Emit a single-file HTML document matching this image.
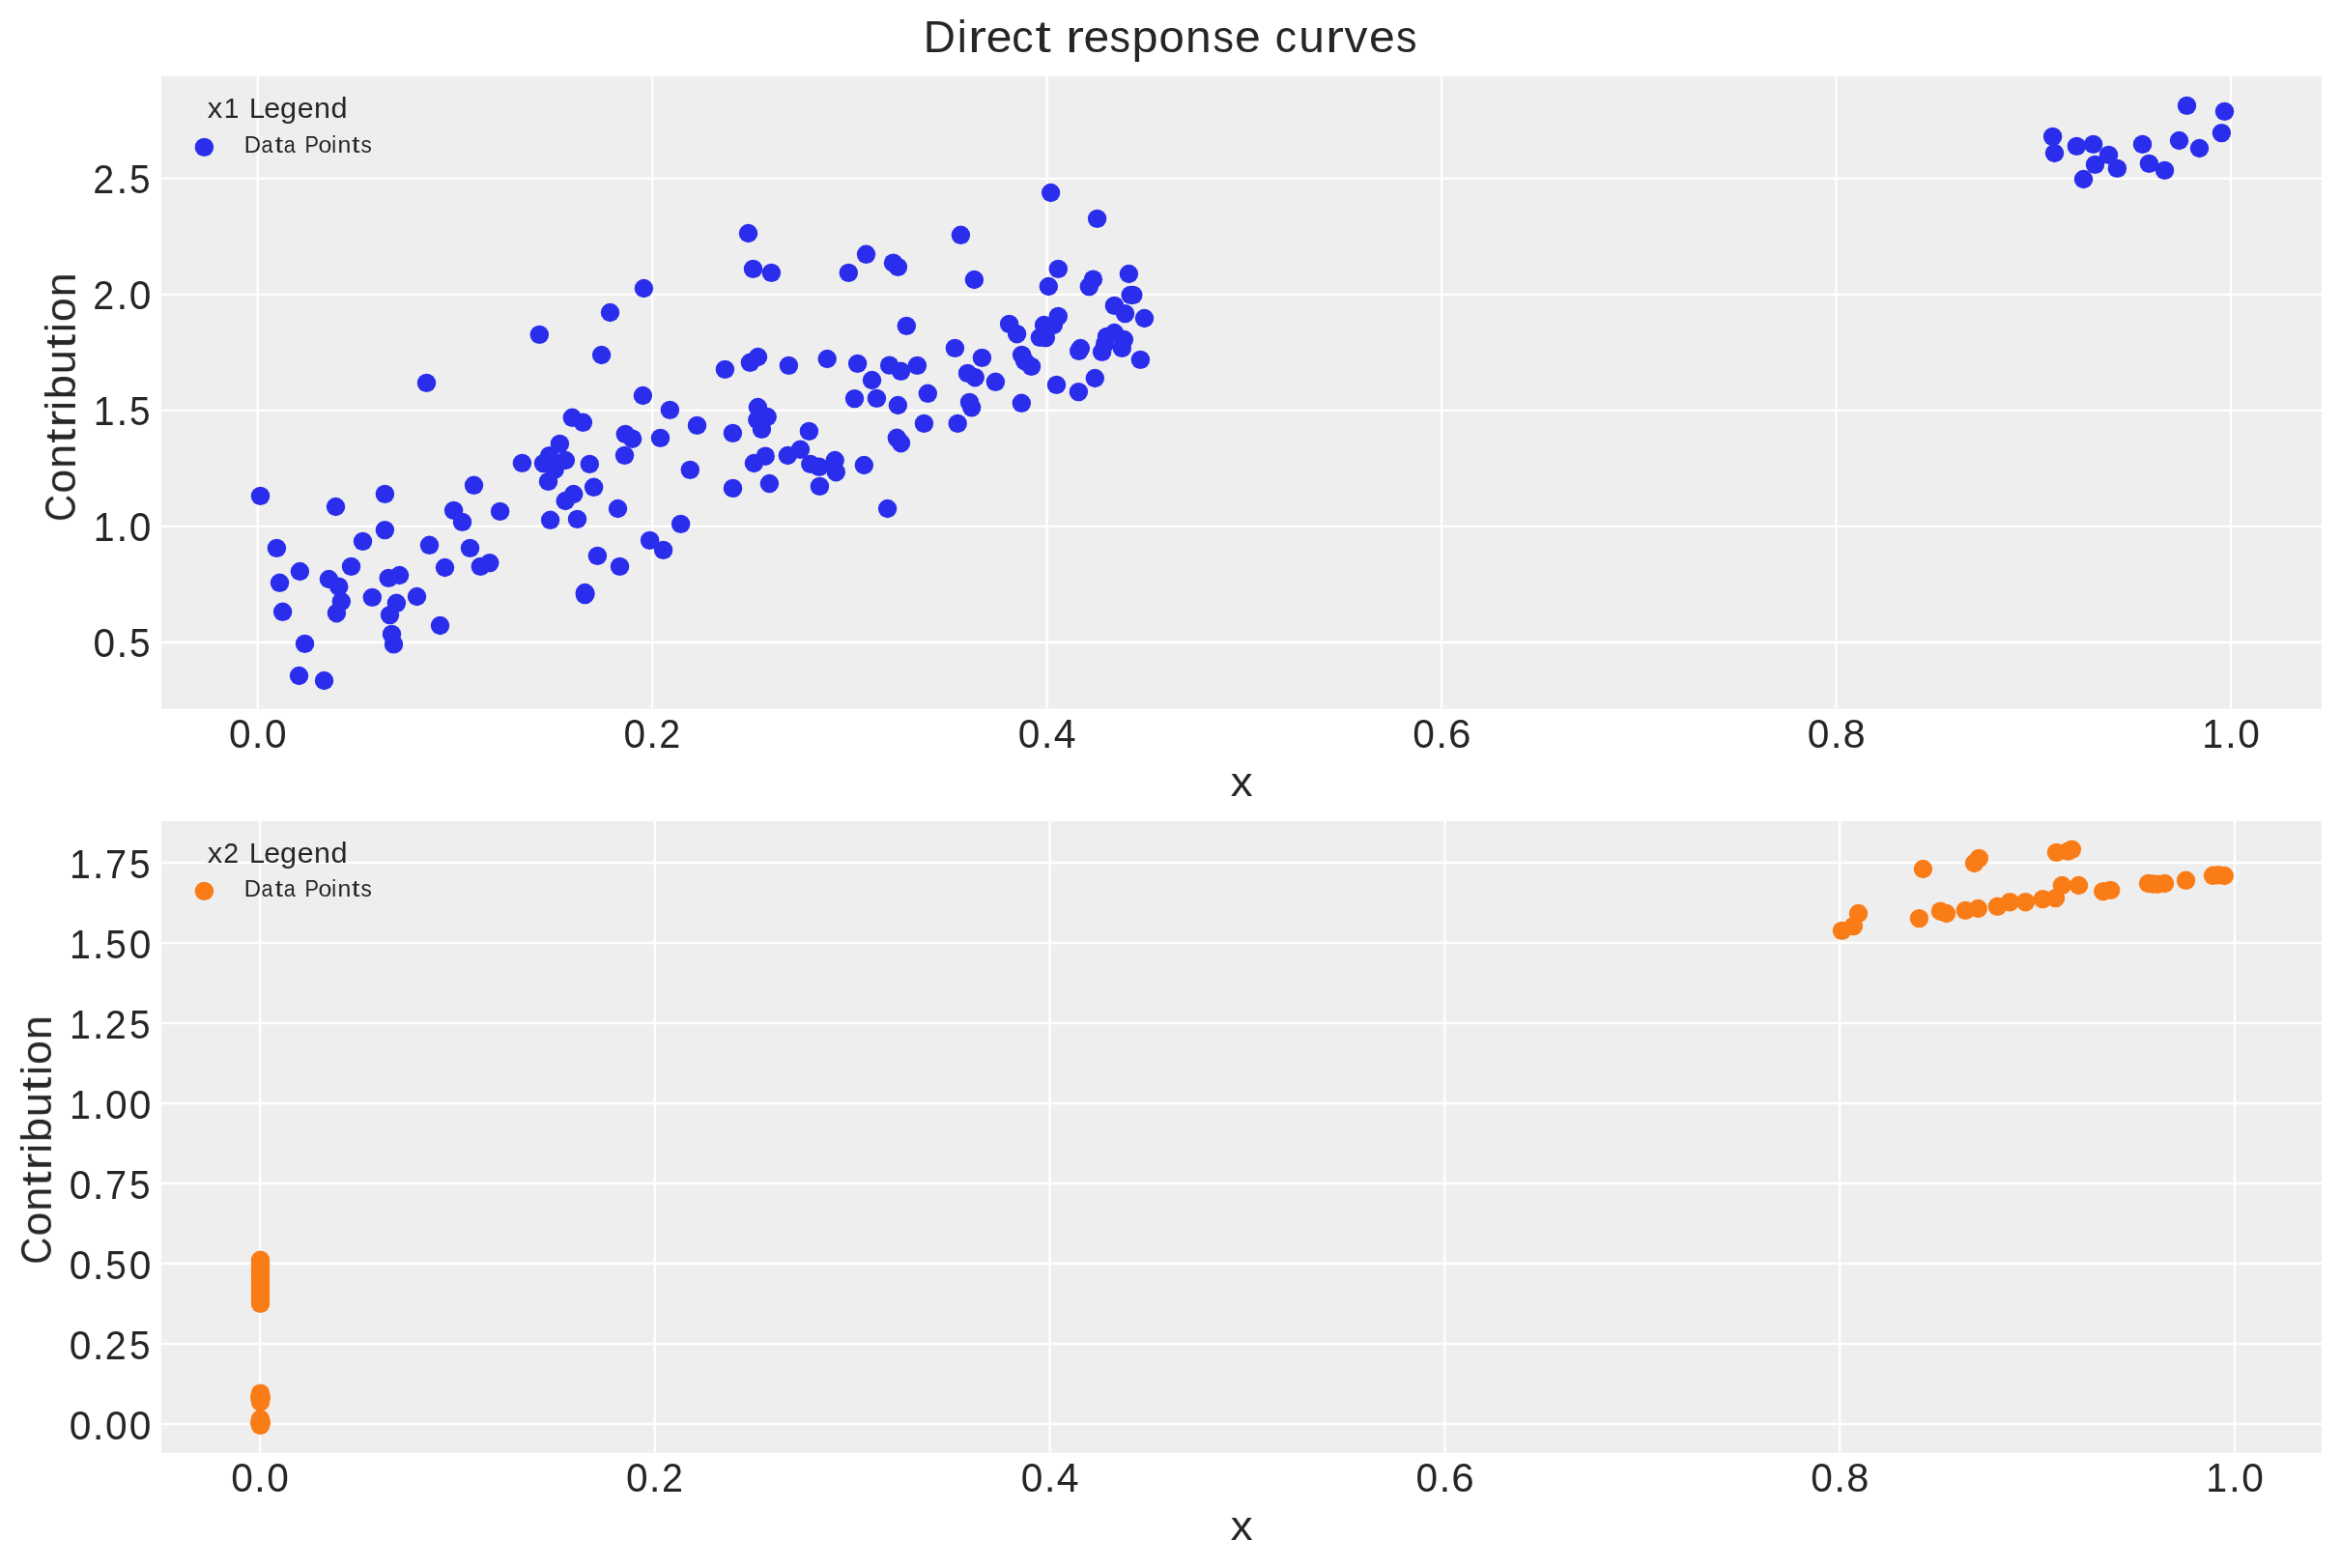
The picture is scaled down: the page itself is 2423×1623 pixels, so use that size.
<!DOCTYPE html>
<html><head><meta charset="utf-8"><title>Direct response curves</title>
<style>html,body{margin:0;padding:0;background:#fff}body{width:2423px;height:1623px;overflow:hidden;font-family:"Liberation Sans",sans-serif}svg{display:block}</style></head>
<body>
<svg width="2423" height="1623" viewBox="0 0 2423 1623">
<rect x="0" y="0" width="2423" height="1623" fill="#ffffff"/>
<rect x="167.0" y="79.0" width="2236.0" height="654.7" fill="#eeeeee"/>
<path d="M266.80 79.0V733.7M675.24 79.0V733.7M1083.68 79.0V733.7M1492.12 79.0V733.7M1900.56 79.0V733.7M2309.00 79.0V733.7M167.0 184.80H2403.0M167.0 304.85H2403.0M167.0 424.90H2403.0M167.0 544.95H2403.0M167.0 665.00H2403.0" stroke="#ffffff" stroke-width="2.3" fill="none"/>
<g fill="#2a2eec">
<circle cx="269.5" cy="513.4" r="9.72"/><circle cx="347.5" cy="524.5" r="9.72"/><circle cx="398.4" cy="511.4" r="9.72"/><circle cx="490.5" cy="502.3" r="9.72"/><circle cx="469.6" cy="528.4" r="9.72"/><circle cx="478.5" cy="540.4" r="9.72"/><circle cx="517.6" cy="529.4" r="9.72"/><circle cx="593.7" cy="511.5" r="9.72"/><circle cx="585.2" cy="518.5" r="9.72"/><circle cx="569.6" cy="538.3" r="9.72"/><circle cx="597.5" cy="537.4" r="9.72"/><circle cx="398.4" cy="548.6" r="9.72"/><circle cx="375.5" cy="560.4" r="9.72"/><circle cx="286.4" cy="567.4" r="9.72"/><circle cx="444.5" cy="564.3" r="9.72"/><circle cx="486.5" cy="567.4" r="9.72"/><circle cx="506.8" cy="582.6" r="9.72"/><circle cx="497.3" cy="586.4" r="9.72"/><circle cx="460.5" cy="587.5" r="9.72"/><circle cx="363.5" cy="586.4" r="9.72"/><circle cx="310.4" cy="591.5" r="9.72"/><circle cx="340.4" cy="599.5" r="9.72"/><circle cx="350.7" cy="607.2" r="9.72"/><circle cx="413.5" cy="595.5" r="9.72"/><circle cx="402.2" cy="598.4" r="9.72"/><circle cx="289.5" cy="603.3" r="9.72"/><circle cx="353.3" cy="622.6" r="9.72"/><circle cx="385.3" cy="618.4" r="9.72"/><circle cx="431.5" cy="617.5" r="9.72"/><circle cx="410.4" cy="624.3" r="9.72"/><circle cx="403.5" cy="636.6" r="9.72"/><circle cx="348.4" cy="634.7" r="9.72"/><circle cx="292.6" cy="633.3" r="9.72"/><circle cx="455.5" cy="647.5" r="9.72"/><circle cx="405.5" cy="656.4" r="9.72"/><circle cx="407.5" cy="666.9" r="9.72"/><circle cx="315.5" cy="666.4" r="9.72"/><circle cx="309.5" cy="699.5" r="9.72"/><circle cx="335.5" cy="704.5" r="9.72"/><circle cx="606.0" cy="614.6" r="9.72"/><circle cx="614.6" cy="504.3" r="9.72"/><circle cx="639.5" cy="526.5" r="9.72"/><circle cx="704.6" cy="542.4" r="9.72"/><circle cx="672.6" cy="559.4" r="9.72"/><circle cx="686.6" cy="569.4" r="9.72"/><circle cx="618.4" cy="575.4" r="9.72"/><circle cx="641.5" cy="586.4" r="9.72"/><circle cx="605.4" cy="613.5" r="9.72"/><circle cx="605.4" cy="615.6" r="9.72"/><circle cx="758.5" cy="505.4" r="9.72"/><circle cx="918.6" cy="526.5" r="9.72"/><circle cx="558.3" cy="346.4" r="9.72"/><circle cx="441.5" cy="396.4" r="9.72"/><circle cx="592.3" cy="432.3" r="9.72"/><circle cx="603.4" cy="437.3" r="9.72"/><circle cx="579.4" cy="459.4" r="9.72"/><circle cx="568.6" cy="471.7" r="9.72"/><circle cx="562.5" cy="479.6" r="9.72"/><circle cx="585.4" cy="476.5" r="9.72"/><circle cx="574.2" cy="486.1" r="9.72"/><circle cx="567.5" cy="498.4" r="9.72"/><circle cx="540.4" cy="479.4" r="9.72"/><circle cx="610.3" cy="480.4" r="9.72"/><circle cx="647.3" cy="449.4" r="9.72"/><circle cx="654.6" cy="454.2" r="9.72"/><circle cx="646.5" cy="471.4" r="9.72"/><circle cx="683.5" cy="453.4" r="9.72"/><circle cx="693.4" cy="424.4" r="9.72"/><circle cx="666.4" cy="298.5" r="9.72"/><circle cx="631.5" cy="323.5" r="9.72"/><circle cx="622.6" cy="367.5" r="9.72"/><circle cx="665.4" cy="409.5" r="9.72"/><circle cx="721.5" cy="440.4" r="9.72"/><circle cx="714.3" cy="486.4" r="9.72"/><circle cx="750.4" cy="382.4" r="9.72"/><circle cx="776.4" cy="375.3" r="9.72"/><circle cx="784.5" cy="369.5" r="9.72"/><circle cx="816.4" cy="378.4" r="9.72"/><circle cx="856.2" cy="371.5" r="9.72"/><circle cx="887.6" cy="376.4" r="9.72"/><circle cx="920.6" cy="378.1" r="9.72"/><circle cx="932.5" cy="384.3" r="9.72"/><circle cx="949.4" cy="378.4" r="9.72"/><circle cx="902.5" cy="393.5" r="9.72"/><circle cx="884.5" cy="412.6" r="9.72"/><circle cx="907.4" cy="412.4" r="9.72"/><circle cx="929.4" cy="419.5" r="9.72"/><circle cx="938.3" cy="337.4" r="9.72"/><circle cx="758.4" cy="448.4" r="9.72"/><circle cx="837.4" cy="446.4" r="9.72"/><circle cx="792.2" cy="472.2" r="9.72"/><circle cx="780.4" cy="479.5" r="9.72"/><circle cx="815.3" cy="471.5" r="9.72"/><circle cx="828.4" cy="465.3" r="9.72"/><circle cx="838.8" cy="480.4" r="9.72"/><circle cx="847.9" cy="483.3" r="9.72"/><circle cx="864.2" cy="476.5" r="9.72"/><circle cx="865.3" cy="488.7" r="9.72"/><circle cx="894.3" cy="481.5" r="9.72"/><circle cx="928.3" cy="453.3" r="9.72"/><circle cx="932.5" cy="458.7" r="9.72"/><circle cx="796.4" cy="500.5" r="9.72"/><circle cx="848.4" cy="503.4" r="9.72"/><circle cx="784.4" cy="421.5" r="9.72"/><circle cx="794.2" cy="431.5" r="9.72"/><circle cx="783.8" cy="434.6" r="9.72"/><circle cx="788.4" cy="444.4" r="9.72"/><circle cx="1008.4" cy="289.5" r="9.72"/><circle cx="1085.3" cy="296.5" r="9.72"/><circle cx="1131.4" cy="289.2" r="9.72"/><circle cx="1127.3" cy="296.6" r="9.72"/><circle cx="1170.2" cy="305.4" r="9.72"/><circle cx="1172.8" cy="305.4" r="9.72"/><circle cx="1153.4" cy="316.4" r="9.72"/><circle cx="1164.5" cy="324.6" r="9.72"/><circle cx="1184.5" cy="329.5" r="9.72"/><circle cx="1095.3" cy="327.4" r="9.72"/><circle cx="1044.6" cy="335.4" r="9.72"/><circle cx="1052.6" cy="345.7" r="9.72"/><circle cx="988.4" cy="360.4" r="9.72"/><circle cx="1016.4" cy="370.4" r="9.72"/><circle cx="1001.5" cy="386.4" r="9.72"/><circle cx="1009.2" cy="390.7" r="9.72"/><circle cx="1030.4" cy="395.3" r="9.72"/><circle cx="960.3" cy="407.3" r="9.72"/><circle cx="1003.5" cy="416.4" r="9.72"/><circle cx="1005.7" cy="421.8" r="9.72"/><circle cx="1057.3" cy="417.3" r="9.72"/><circle cx="1093.5" cy="398.4" r="9.72"/><circle cx="1116.4" cy="405.6" r="9.72"/><circle cx="1133.3" cy="391.5" r="9.72"/><circle cx="1180.4" cy="372.4" r="9.72"/><circle cx="956.4" cy="438.4" r="9.72"/><circle cx="991.2" cy="438.4" r="9.72"/><circle cx="1080.5" cy="336.5" r="9.72"/><circle cx="1090.4" cy="336.5" r="9.72"/><circle cx="1076.4" cy="349.4" r="9.72"/><circle cx="1082.4" cy="349.6" r="9.72"/><circle cx="1057.6" cy="367.4" r="9.72"/><circle cx="1060.6" cy="373.7" r="9.72"/><circle cx="1067.5" cy="379.4" r="9.72"/><circle cx="1118.4" cy="360.5" r="9.72"/><circle cx="1116.7" cy="363.4" r="9.72"/><circle cx="1153.4" cy="344.5" r="9.72"/><circle cx="1145.5" cy="348.4" r="9.72"/><circle cx="1163.4" cy="351.5" r="9.72"/><circle cx="1161.3" cy="360.4" r="9.72"/><circle cx="1140.6" cy="364.4" r="9.72"/><circle cx="1143.8" cy="355.7" r="9.72"/><circle cx="774.5" cy="241.5" r="9.72"/><circle cx="779.5" cy="278.4" r="9.72"/><circle cx="798.4" cy="282.4" r="9.72"/><circle cx="878.3" cy="282.4" r="9.72"/><circle cx="896.5" cy="263.3" r="9.72"/><circle cx="924.5" cy="272.2" r="9.72"/><circle cx="929.4" cy="276.4" r="9.72"/><circle cx="1087.6" cy="199.5" r="9.72"/><circle cx="1135.6" cy="226.4" r="9.72"/><circle cx="994.4" cy="243.3" r="9.72"/><circle cx="1095.3" cy="278.4" r="9.72"/><circle cx="1168.4" cy="283.5" r="9.72"/><circle cx="2263.5" cy="109.4" r="9.72"/><circle cx="2302.5" cy="115.4" r="9.72"/><circle cx="2299.4" cy="137.6" r="9.72"/><circle cx="2255.5" cy="145.5" r="9.72"/><circle cx="2276.5" cy="153.5" r="9.72"/><circle cx="2217.5" cy="149.4" r="9.72"/><circle cx="2224.4" cy="169.4" r="9.72"/><circle cx="2240.5" cy="176.4" r="9.72"/><circle cx="2124.6" cy="141.4" r="9.72"/><circle cx="2126.5" cy="158.5" r="9.72"/><circle cx="2149.4" cy="151.4" r="9.72"/><circle cx="2166.6" cy="149.4" r="9.72"/><circle cx="2182.5" cy="160.4" r="9.72"/><circle cx="2168.5" cy="170.4" r="9.72"/><circle cx="2191.4" cy="174.4" r="9.72"/><circle cx="2156.5" cy="185.5" r="9.72"/><circle cx="211.4" cy="152.4" r="9.72"/>
</g>
<rect x="167.0" y="849.8" width="2236.0" height="654.0" fill="#eeeeee"/>
<path d="M269.00 849.8V1503.8M677.80 849.8V1503.8M1086.60 849.8V1503.8M1495.40 849.8V1503.8M1904.20 849.8V1503.8M2313.00 849.8V1503.8M167.0 893.00H2403.0M167.0 976.00H2403.0M167.0 1059.00H2403.0M167.0 1142.00H2403.0M167.0 1225.00H2403.0M167.0 1308.00H2403.0M167.0 1391.00H2403.0M167.0 1474.00H2403.0" stroke="#ffffff" stroke-width="2.3" fill="none"/>
<g fill="#fa7c17">
<circle cx="1906.5" cy="963.4" r="9.72"/><circle cx="1918.4" cy="958.6" r="9.72"/><circle cx="1923.5" cy="945.5" r="9.72"/><circle cx="1990.4" cy="899.5" r="9.72"/><circle cx="1986.4" cy="950.6" r="9.72"/><circle cx="2048.3" cy="888.4" r="9.72"/><circle cx="2043.5" cy="893.5" r="9.72"/><circle cx="2008.4" cy="943.2" r="9.72"/><circle cx="2014.5" cy="945.5" r="9.72"/><circle cx="2034.3" cy="942.4" r="9.72"/><circle cx="2047.4" cy="940.5" r="9.72"/><circle cx="2067.4" cy="938.3" r="9.72"/><circle cx="2080.4" cy="933.7" r="9.72"/><circle cx="2096.5" cy="933.7" r="9.72"/><circle cx="2114.3" cy="930.6" r="9.72"/><circle cx="2127.5" cy="929.6" r="9.72"/><circle cx="2134.3" cy="916.5" r="9.72"/><circle cx="2151.5" cy="916.5" r="9.72"/><circle cx="2128.5" cy="882.4" r="9.72"/><circle cx="2140.5" cy="881.1" r="9.72"/><circle cx="2144.4" cy="879.3" r="9.72"/><circle cx="2176.7" cy="922.6" r="9.72"/><circle cx="2184.6" cy="921.4" r="9.72"/><circle cx="2223.5" cy="914.5" r="9.72"/><circle cx="2228.2" cy="915.0" r="9.72"/><circle cx="2233.3" cy="915.2" r="9.72"/><circle cx="2240.5" cy="914.5" r="9.72"/><circle cx="2262.5" cy="911.3" r="9.72"/><circle cx="2290.5" cy="906.3" r="9.72"/><circle cx="2295.8" cy="905.7" r="9.72"/><circle cx="2302.3" cy="906.5" r="9.72"/><circle cx="269.5" cy="1304.3" r="9.72"/><circle cx="269.5" cy="1308.3" r="9.72"/><circle cx="269.5" cy="1312.0" r="9.72"/><circle cx="269.5" cy="1316.0" r="9.72"/><circle cx="269.5" cy="1320.0" r="9.72"/><circle cx="269.5" cy="1325.4" r="9.72"/><circle cx="269.5" cy="1329.3" r="9.72"/><circle cx="269.5" cy="1333.0" r="9.72"/><circle cx="269.5" cy="1336.8" r="9.72"/><circle cx="269.5" cy="1340.4" r="9.72"/><circle cx="269.5" cy="1345.0" r="9.72"/><circle cx="269.5" cy="1349.3" r="9.72"/><circle cx="269.5" cy="1442.1" r="9.72"/><circle cx="268.6" cy="1446.6" r="9.72"/><circle cx="270.4" cy="1446.6" r="9.72"/><circle cx="269.5" cy="1451.1" r="9.72"/><circle cx="269.5" cy="1468.9" r="9.72"/><circle cx="268.6" cy="1472.2" r="9.72"/><circle cx="270.4" cy="1472.2" r="9.72"/><circle cx="269.5" cy="1475.3" r="9.72"/><circle cx="211.4" cy="922.4" r="9.72"/>
</g>
<g font-family="Liberation Sans, sans-serif" fill="#262626" style="will-change:transform">
<text y="54.30" font-size="46.95"><tspan x="955.81" textLength="33.21" lengthAdjust="spacingAndGlyphs">D</tspan><tspan x="990.73" textLength="10.13" lengthAdjust="spacingAndGlyphs">i</tspan><tspan x="1002.10" textLength="19.00" lengthAdjust="spacingAndGlyphs">r</tspan><tspan x="1020.65" textLength="26.75" lengthAdjust="spacingAndGlyphs">e</tspan><tspan x="1047.22" textLength="22.36" lengthAdjust="spacingAndGlyphs">c</tspan><tspan x="1071.49" textLength="16.32" lengthAdjust="spacingAndGlyphs">t</tspan> <tspan x="1102.93" textLength="19.00" lengthAdjust="spacingAndGlyphs">r</tspan><tspan x="1121.49" textLength="26.75" lengthAdjust="spacingAndGlyphs">e</tspan><tspan x="1148.57" textLength="21.50" lengthAdjust="spacingAndGlyphs">s</tspan><tspan x="1171.55" textLength="27.09" lengthAdjust="spacingAndGlyphs">p</tspan><tspan x="1199.41" textLength="26.31" lengthAdjust="spacingAndGlyphs">o</tspan><tspan x="1226.99" textLength="26.65" lengthAdjust="spacingAndGlyphs">n</tspan><tspan x="1255.52" textLength="21.50" lengthAdjust="spacingAndGlyphs">s</tspan><tspan x="1278.05" textLength="26.75" lengthAdjust="spacingAndGlyphs">e</tspan> <tspan x="1319.76" textLength="22.36" lengthAdjust="spacingAndGlyphs">c</tspan><tspan x="1344.34" textLength="26.65" lengthAdjust="spacingAndGlyphs">u</tspan><tspan x="1372.08" textLength="19.00" lengthAdjust="spacingAndGlyphs">r</tspan><tspan x="1391.43" textLength="23.90" lengthAdjust="spacingAndGlyphs">v</tspan><tspan x="1416.99" textLength="26.75" lengthAdjust="spacingAndGlyphs">e</tspan><tspan x="1445.05" textLength="21.50" lengthAdjust="spacingAndGlyphs">s</tspan></text>
<text y="773.90" font-size="42.53"><tspan x="236.96" textLength="22.62" lengthAdjust="spacingAndGlyphs">0</tspan><tspan x="260.87" textLength="11.81" lengthAdjust="spacingAndGlyphs">.</tspan><tspan x="274.05" textLength="22.62" lengthAdjust="spacingAndGlyphs">0</tspan></text>
<text y="773.90" font-size="42.53"><tspan x="645.40" textLength="22.62" lengthAdjust="spacingAndGlyphs">0</tspan><tspan x="669.31" textLength="11.81" lengthAdjust="spacingAndGlyphs">.</tspan><tspan x="682.32" textLength="21.96" lengthAdjust="spacingAndGlyphs">2</tspan></text>
<text y="773.90" font-size="42.53"><tspan x="1053.84" textLength="22.62" lengthAdjust="spacingAndGlyphs">0</tspan><tspan x="1077.75" textLength="11.81" lengthAdjust="spacingAndGlyphs">.</tspan><tspan x="1090.77" textLength="22.81" lengthAdjust="spacingAndGlyphs">4</tspan></text>
<text y="773.90" font-size="42.53"><tspan x="1462.28" textLength="22.62" lengthAdjust="spacingAndGlyphs">0</tspan><tspan x="1486.19" textLength="11.81" lengthAdjust="spacingAndGlyphs">.</tspan><tspan x="1498.94" textLength="23.49" lengthAdjust="spacingAndGlyphs">6</tspan></text>
<text y="773.90" font-size="42.53"><tspan x="1870.72" textLength="22.62" lengthAdjust="spacingAndGlyphs">0</tspan><tspan x="1894.63" textLength="11.81" lengthAdjust="spacingAndGlyphs">.</tspan><tspan x="1907.52" textLength="23.19" lengthAdjust="spacingAndGlyphs">8</tspan></text>
<text y="773.90" font-size="42.53"><tspan x="2279.33" textLength="21.86" lengthAdjust="spacingAndGlyphs">1</tspan><tspan x="2303.07" textLength="11.81" lengthAdjust="spacingAndGlyphs">.</tspan><tspan x="2316.25" textLength="22.62" lengthAdjust="spacingAndGlyphs">0</tspan></text>
<text y="1543.80" font-size="42.53"><tspan x="239.16" textLength="22.62" lengthAdjust="spacingAndGlyphs">0</tspan><tspan x="263.07" textLength="11.81" lengthAdjust="spacingAndGlyphs">.</tspan><tspan x="276.25" textLength="22.62" lengthAdjust="spacingAndGlyphs">0</tspan></text>
<text y="1543.80" font-size="42.53"><tspan x="647.96" textLength="22.62" lengthAdjust="spacingAndGlyphs">0</tspan><tspan x="671.87" textLength="11.81" lengthAdjust="spacingAndGlyphs">.</tspan><tspan x="684.88" textLength="21.96" lengthAdjust="spacingAndGlyphs">2</tspan></text>
<text y="1543.80" font-size="42.53"><tspan x="1056.76" textLength="22.62" lengthAdjust="spacingAndGlyphs">0</tspan><tspan x="1080.67" textLength="11.81" lengthAdjust="spacingAndGlyphs">.</tspan><tspan x="1093.69" textLength="22.81" lengthAdjust="spacingAndGlyphs">4</tspan></text>
<text y="1543.80" font-size="42.53"><tspan x="1465.56" textLength="22.62" lengthAdjust="spacingAndGlyphs">0</tspan><tspan x="1489.47" textLength="11.81" lengthAdjust="spacingAndGlyphs">.</tspan><tspan x="1502.22" textLength="23.49" lengthAdjust="spacingAndGlyphs">6</tspan></text>
<text y="1543.80" font-size="42.53"><tspan x="1874.36" textLength="22.62" lengthAdjust="spacingAndGlyphs">0</tspan><tspan x="1898.27" textLength="11.81" lengthAdjust="spacingAndGlyphs">.</tspan><tspan x="1911.16" textLength="23.19" lengthAdjust="spacingAndGlyphs">8</tspan></text>
<text y="1543.80" font-size="42.53"><tspan x="2283.33" textLength="21.86" lengthAdjust="spacingAndGlyphs">1</tspan><tspan x="2307.07" textLength="11.81" lengthAdjust="spacingAndGlyphs">.</tspan><tspan x="2320.25" textLength="22.62" lengthAdjust="spacingAndGlyphs">0</tspan></text>
<text y="199.70" font-size="42.53"><tspan x="96.37" textLength="21.96" lengthAdjust="spacingAndGlyphs">2</tspan><tspan x="120.46" textLength="11.81" lengthAdjust="spacingAndGlyphs">.</tspan><tspan x="133.97" textLength="21.58" lengthAdjust="spacingAndGlyphs">5</tspan></text>
<text y="319.75" font-size="42.53"><tspan x="96.37" textLength="21.96" lengthAdjust="spacingAndGlyphs">2</tspan><tspan x="120.46" textLength="11.81" lengthAdjust="spacingAndGlyphs">.</tspan><tspan x="133.64" textLength="22.62" lengthAdjust="spacingAndGlyphs">0</tspan></text>
<text y="439.80" font-size="42.53"><tspan x="96.72" textLength="21.86" lengthAdjust="spacingAndGlyphs">1</tspan><tspan x="120.46" textLength="11.81" lengthAdjust="spacingAndGlyphs">.</tspan><tspan x="133.97" textLength="21.58" lengthAdjust="spacingAndGlyphs">5</tspan></text>
<text y="559.85" font-size="42.53"><tspan x="96.72" textLength="21.86" lengthAdjust="spacingAndGlyphs">1</tspan><tspan x="120.46" textLength="11.81" lengthAdjust="spacingAndGlyphs">.</tspan><tspan x="133.64" textLength="22.62" lengthAdjust="spacingAndGlyphs">0</tspan></text>
<text y="679.90" font-size="42.53"><tspan x="96.54" textLength="22.62" lengthAdjust="spacingAndGlyphs">0</tspan><tspan x="120.46" textLength="11.81" lengthAdjust="spacingAndGlyphs">.</tspan><tspan x="133.97" textLength="21.58" lengthAdjust="spacingAndGlyphs">5</tspan></text>
<text y="908.80" font-size="42.53"><tspan x="71.98" textLength="21.86" lengthAdjust="spacingAndGlyphs">1</tspan><tspan x="95.72" textLength="11.81" lengthAdjust="spacingAndGlyphs">.</tspan><tspan x="109.09" textLength="22.11" lengthAdjust="spacingAndGlyphs">7</tspan><tspan x="133.97" textLength="21.58" lengthAdjust="spacingAndGlyphs">5</tspan></text>
<text y="991.80" font-size="42.53"><tspan x="71.98" textLength="21.86" lengthAdjust="spacingAndGlyphs">1</tspan><tspan x="95.72" textLength="11.81" lengthAdjust="spacingAndGlyphs">.</tspan><tspan x="109.23" textLength="21.58" lengthAdjust="spacingAndGlyphs">5</tspan><tspan x="133.64" textLength="22.62" lengthAdjust="spacingAndGlyphs">0</tspan></text>
<text y="1074.80" font-size="42.53"><tspan x="71.98" textLength="21.86" lengthAdjust="spacingAndGlyphs">1</tspan><tspan x="95.72" textLength="11.81" lengthAdjust="spacingAndGlyphs">.</tspan><tspan x="108.73" textLength="21.96" lengthAdjust="spacingAndGlyphs">2</tspan><tspan x="133.97" textLength="21.58" lengthAdjust="spacingAndGlyphs">5</tspan></text>
<text y="1157.80" font-size="42.53"><tspan x="71.98" textLength="21.86" lengthAdjust="spacingAndGlyphs">1</tspan><tspan x="95.72" textLength="11.81" lengthAdjust="spacingAndGlyphs">.</tspan><tspan x="108.90" textLength="22.62" lengthAdjust="spacingAndGlyphs">0</tspan><tspan x="133.64" textLength="22.62" lengthAdjust="spacingAndGlyphs">0</tspan></text>
<text y="1240.80" font-size="42.53"><tspan x="71.81" textLength="22.62" lengthAdjust="spacingAndGlyphs">0</tspan><tspan x="95.72" textLength="11.81" lengthAdjust="spacingAndGlyphs">.</tspan><tspan x="109.09" textLength="22.11" lengthAdjust="spacingAndGlyphs">7</tspan><tspan x="133.97" textLength="21.58" lengthAdjust="spacingAndGlyphs">5</tspan></text>
<text y="1323.80" font-size="42.53"><tspan x="71.81" textLength="22.62" lengthAdjust="spacingAndGlyphs">0</tspan><tspan x="95.72" textLength="11.81" lengthAdjust="spacingAndGlyphs">.</tspan><tspan x="109.23" textLength="21.58" lengthAdjust="spacingAndGlyphs">5</tspan><tspan x="133.64" textLength="22.62" lengthAdjust="spacingAndGlyphs">0</tspan></text>
<text y="1406.80" font-size="42.53"><tspan x="71.81" textLength="22.62" lengthAdjust="spacingAndGlyphs">0</tspan><tspan x="95.72" textLength="11.81" lengthAdjust="spacingAndGlyphs">.</tspan><tspan x="108.73" textLength="21.96" lengthAdjust="spacingAndGlyphs">2</tspan><tspan x="133.97" textLength="21.58" lengthAdjust="spacingAndGlyphs">5</tspan></text>
<text y="1489.80" font-size="42.53"><tspan x="71.81" textLength="22.62" lengthAdjust="spacingAndGlyphs">0</tspan><tspan x="95.72" textLength="11.81" lengthAdjust="spacingAndGlyphs">.</tspan><tspan x="108.90" textLength="22.62" lengthAdjust="spacingAndGlyphs">0</tspan><tspan x="133.64" textLength="22.62" lengthAdjust="spacingAndGlyphs">0</tspan></text>
<text y="824.30" font-size="42.04"><tspan x="1273.76" textLength="22.89" lengthAdjust="spacingAndGlyphs">x</tspan></text>
<text y="1593.80" font-size="42.04"><tspan x="1273.76" textLength="22.89" lengthAdjust="spacingAndGlyphs">x</tspan></text>
<text y="122.30" font-size="29.58"><tspan x="214.71" textLength="15.44" lengthAdjust="spacingAndGlyphs">x</tspan><tspan x="231.75" textLength="15.64" lengthAdjust="spacingAndGlyphs">1</tspan> <tspan x="257.88" textLength="15.98" lengthAdjust="spacingAndGlyphs">L</tspan><tspan x="273.22" textLength="16.89" lengthAdjust="spacingAndGlyphs">e</tspan><tspan x="289.92" textLength="17.07" lengthAdjust="spacingAndGlyphs">g</tspan><tspan x="307.67" textLength="16.89" lengthAdjust="spacingAndGlyphs">e</tspan><tspan x="325.09" textLength="16.94" lengthAdjust="spacingAndGlyphs">n</tspan><tspan x="342.57" textLength="17.07" lengthAdjust="spacingAndGlyphs">d</tspan></text>
<text y="158.00" font-size="24.62"><tspan x="252.65" textLength="17.30" lengthAdjust="spacingAndGlyphs">D</tspan><tspan x="270.48" textLength="12.05" lengthAdjust="spacingAndGlyphs">a</tspan><tspan x="284.64" textLength="8.55" lengthAdjust="spacingAndGlyphs">t</tspan><tspan x="293.81" textLength="12.05" lengthAdjust="spacingAndGlyphs">a</tspan> <tspan x="315.38" textLength="14.45" lengthAdjust="spacingAndGlyphs">P</tspan><tspan x="329.41" textLength="13.82" lengthAdjust="spacingAndGlyphs">o</tspan><tspan x="343.36" textLength="4.86" lengthAdjust="spacingAndGlyphs">i</tspan><tspan x="349.48" textLength="13.84" lengthAdjust="spacingAndGlyphs">n</tspan><tspan x="363.90" textLength="8.55" lengthAdjust="spacingAndGlyphs">t</tspan><tspan x="373.38" textLength="11.28" lengthAdjust="spacingAndGlyphs">s</tspan></text>
<text y="893.00" font-size="29.58"><tspan x="214.71" textLength="15.44" lengthAdjust="spacingAndGlyphs">x</tspan><tspan x="231.32" textLength="15.84" lengthAdjust="spacingAndGlyphs">2</tspan> <tspan x="257.88" textLength="15.98" lengthAdjust="spacingAndGlyphs">L</tspan><tspan x="273.22" textLength="16.89" lengthAdjust="spacingAndGlyphs">e</tspan><tspan x="289.92" textLength="17.07" lengthAdjust="spacingAndGlyphs">g</tspan><tspan x="307.67" textLength="16.89" lengthAdjust="spacingAndGlyphs">e</tspan><tspan x="325.09" textLength="16.94" lengthAdjust="spacingAndGlyphs">n</tspan><tspan x="342.57" textLength="17.07" lengthAdjust="spacingAndGlyphs">d</tspan></text>
<text y="928.00" font-size="24.62"><tspan x="252.65" textLength="17.30" lengthAdjust="spacingAndGlyphs">D</tspan><tspan x="270.48" textLength="12.05" lengthAdjust="spacingAndGlyphs">a</tspan><tspan x="284.64" textLength="8.55" lengthAdjust="spacingAndGlyphs">t</tspan><tspan x="293.81" textLength="12.05" lengthAdjust="spacingAndGlyphs">a</tspan> <tspan x="315.38" textLength="14.45" lengthAdjust="spacingAndGlyphs">P</tspan><tspan x="329.41" textLength="13.82" lengthAdjust="spacingAndGlyphs">o</tspan><tspan x="343.36" textLength="4.86" lengthAdjust="spacingAndGlyphs">i</tspan><tspan x="349.48" textLength="13.84" lengthAdjust="spacingAndGlyphs">n</tspan><tspan x="363.90" textLength="8.55" lengthAdjust="spacingAndGlyphs">t</tspan><tspan x="373.38" textLength="11.28" lengthAdjust="spacingAndGlyphs">s</tspan></text>
<text transform="translate(77.90 540.07) rotate(-90)" y="0" font-size="44.03"><tspan x="0.32" textLength="27.96" lengthAdjust="spacingAndGlyphs">C</tspan><tspan x="29.41" textLength="24.76" lengthAdjust="spacingAndGlyphs">o</tspan><tspan x="55.34" textLength="24.96" lengthAdjust="spacingAndGlyphs">n</tspan><tspan x="81.34" textLength="15.28" lengthAdjust="spacingAndGlyphs">t</tspan><tspan x="97.48" textLength="17.81" lengthAdjust="spacingAndGlyphs">r</tspan><tspan x="115.21" textLength="9.77" lengthAdjust="spacingAndGlyphs">i</tspan><tspan x="126.68" textLength="25.24" lengthAdjust="spacingAndGlyphs">b</tspan><tspan x="152.86" textLength="25.13" lengthAdjust="spacingAndGlyphs">u</tspan><tspan x="179.13" textLength="15.28" lengthAdjust="spacingAndGlyphs">t</tspan><tspan x="195.89" textLength="9.77" lengthAdjust="spacingAndGlyphs">i</tspan><tspan x="206.93" textLength="24.76" lengthAdjust="spacingAndGlyphs">o</tspan><tspan x="232.86" textLength="24.96" lengthAdjust="spacingAndGlyphs">n</tspan></text>
<text transform="translate(52.90 1308.87) rotate(-90)" y="0" font-size="44.03"><tspan x="0.32" textLength="27.96" lengthAdjust="spacingAndGlyphs">C</tspan><tspan x="29.41" textLength="24.76" lengthAdjust="spacingAndGlyphs">o</tspan><tspan x="55.34" textLength="24.96" lengthAdjust="spacingAndGlyphs">n</tspan><tspan x="81.34" textLength="15.28" lengthAdjust="spacingAndGlyphs">t</tspan><tspan x="97.48" textLength="17.81" lengthAdjust="spacingAndGlyphs">r</tspan><tspan x="115.21" textLength="9.77" lengthAdjust="spacingAndGlyphs">i</tspan><tspan x="126.68" textLength="25.24" lengthAdjust="spacingAndGlyphs">b</tspan><tspan x="152.86" textLength="25.13" lengthAdjust="spacingAndGlyphs">u</tspan><tspan x="179.13" textLength="15.28" lengthAdjust="spacingAndGlyphs">t</tspan><tspan x="195.89" textLength="9.77" lengthAdjust="spacingAndGlyphs">i</tspan><tspan x="206.93" textLength="24.76" lengthAdjust="spacingAndGlyphs">o</tspan><tspan x="232.86" textLength="24.96" lengthAdjust="spacingAndGlyphs">n</tspan></text>
</g></svg>
</body></html>
